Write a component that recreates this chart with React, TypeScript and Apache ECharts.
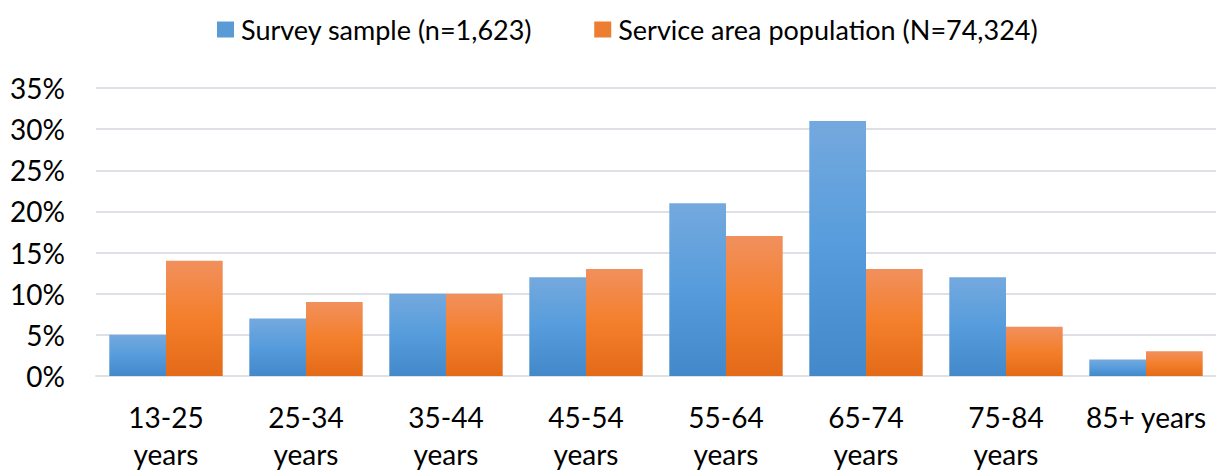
import React, { useEffect, useRef } from "react";
import * as echarts from "echarts";

// Age groups and the share of each group in the two populations (%)
const categories = [
  "13-25\nyears",
  "25-34\nyears",
  "35-44\nyears",
  "45-54\nyears",
  "55-64\nyears",
  "65-74\nyears",
  "75-84\nyears",
  "85+ years",
];
const surveySample = [5, 7, 10, 12, 21, 31, 12, 2];
const servicePopulation = [14, 9, 10, 13, 17, 13, 6, 3];
const seriesNames = ["Survey sample (n=1,623)", "Service area population (N=74,324)"];

const FONT = "Lato, 'Open Sans', sans-serif";
const TEXT = "#000000";

const blueFill = new echarts.graphic.LinearGradient(0, 0, 0, 1, [
  { offset: 0, color: "#74a9de" },
  { offset: 0.5, color: "#569cdc" },
  { offset: 1, color: "#4388c8" },
]);
const orangeFill = new echarts.graphic.LinearGradient(0, 0, 0, 1, [
  { offset: 0, color: "#f1905d" },
  { offset: 0.5, color: "#f47f2b" },
  { offset: 1, color: "#e36a18" },
]);

export default function App() {
  const ref = useRef<HTMLDivElement>(null);

  useEffect(() => {
    if (!ref.current) return;
    const chart = echarts.init(ref.current, null, { renderer: "svg" });
    chart.setOption({
      animation: false,
      backgroundColor: "#ffffff",
      textStyle: { fontFamily: FONT },
      legend: {
        left: 212,
        top: 11,
        itemWidth: 17,
        itemHeight: 16,
        itemGap: 62,
        icon: "rect",
        textStyle: { fontFamily: FONT, fontSize: 27, color: TEXT, padding: [0, 0, 0, 2] },
        data: [
          { name: seriesNames[0], itemStyle: { color: "#5b9bd5" } },
          { name: seriesNames[1], itemStyle: { color: "#ed7d31" } },
        ],
      },
      grid: { left: 96, right: 0, top: 88, bottom: 94, containLabel: false },
      xAxis: {
        type: "category",
        data: categories,
        axisTick: { show: false },
        axisLine: { show: true, lineStyle: { color: "#dde1e6", width: 2 } },
        axisLabel: {
          interval: 0,
          fontFamily: FONT,
          fontSize: 28,
          lineHeight: 37,
          color: TEXT,
          margin: 22,
        },
      },
      yAxis: {
        type: "value",
        min: 0,
        max: 35,
        interval: 5,
        axisLine: { show: false },
        axisTick: { show: false },
        splitLine: { lineStyle: { color: "#dde1e6", width: 2 } },
        axisLabel: {
          fontFamily: FONT,
          fontSize: 28,
          color: TEXT,
          margin: 31,
          formatter: "{value}%",
        },
      },
      series: [
        {
          name: seriesNames[0],
          type: "bar",
          data: surveySample,
          barGap: "0%",
          barCategoryGap: "19%",
          itemStyle: { color: blueFill },
        },
        {
          name: seriesNames[1],
          type: "bar",
          data: servicePopulation,
          barGap: "0%",
          barCategoryGap: "19%",
          itemStyle: { color: orangeFill },
        },
      ],
    });
    return () => chart.dispose();
  }, []);

  return (
    <div
      ref={ref}
      style={{ position: "fixed", left: 0, top: 0, width: 1216, height: 472 }}
    />
  );
}
